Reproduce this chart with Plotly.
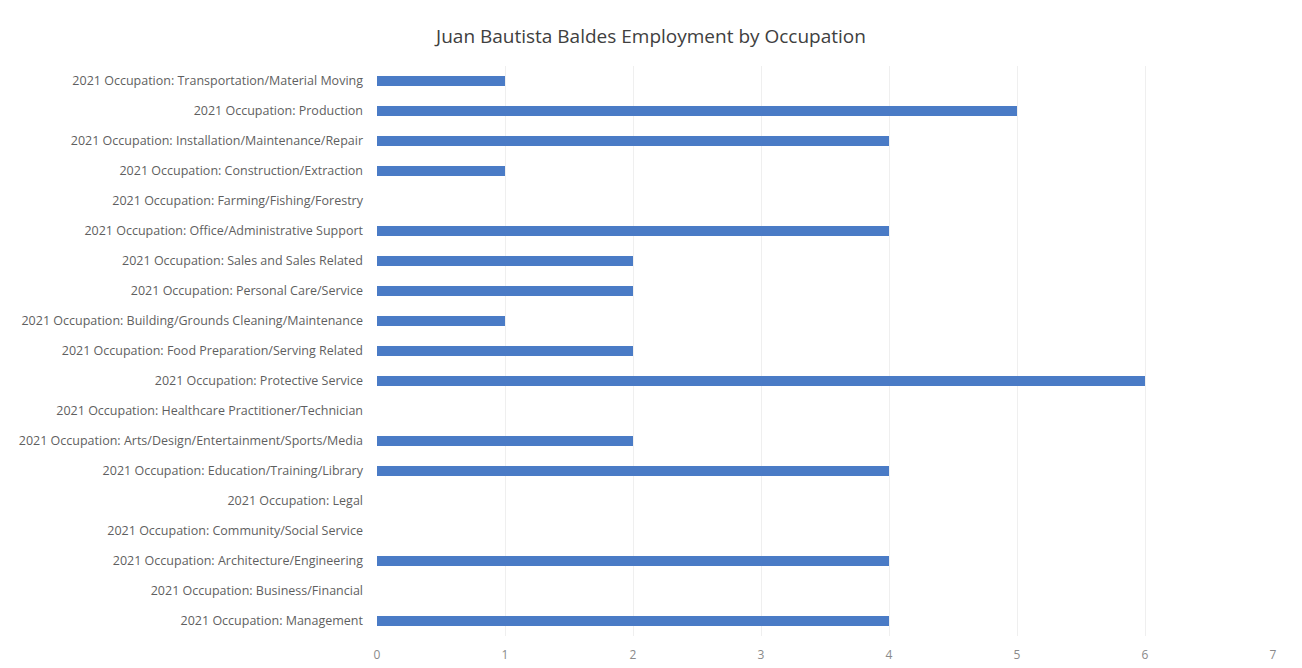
import plotly.graph_objects as go

# Occupation categories, listed bottom-to-top as the y axis draws them
categories = [
    "2021 Occupation: Management",
    "2021 Occupation: Business/Financial",
    "2021 Occupation: Architecture/Engineering",
    "2021 Occupation: Community/Social Service",
    "2021 Occupation: Legal",
    "2021 Occupation: Education/Training/Library",
    "2021 Occupation: Arts/Design/Entertainment/Sports/Media",
    "2021 Occupation: Healthcare Practitioner/Technician",
    "2021 Occupation: Protective Service",
    "2021 Occupation: Food Preparation/Serving Related",
    "2021 Occupation: Building/Grounds Cleaning/Maintenance",
    "2021 Occupation: Personal Care/Service",
    "2021 Occupation: Sales and Sales Related",
    "2021 Occupation: Office/Administrative Support",
    "2021 Occupation: Farming/Fishing/Forestry",
    "2021 Occupation: Construction/Extraction",
    "2021 Occupation: Installation/Maintenance/Repair",
    "2021 Occupation: Production",
    "2021 Occupation: Transportation/Material Moving",
]
employed = [4, 0, 4, 0, 0, 4, 2, 0, 6, 2, 1, 2, 2, 4, 0, 1, 4, 5, 1]

x_ticks = [0, 1, 2, 3, 4, 5, 6, 7]

FONT = "Open Sans, Lato, sans-serif"
TEXT_GRAY = "#5f5f5f"

fig = go.Figure(
    go.Bar(
        y=categories,
        x=employed,
        orientation="h",
        marker=dict(color="#4A7BC6", line=dict(width=0)),
        hoverinfo="x+y",
    )
)

fig.update_layout(
    width=1302,
    height=668,
    margin=dict(l=377, r=29, t=66, b=32, autoexpand=False),
    paper_bgcolor="white",
    plot_bgcolor="white",
    bargap=0.66,
    showlegend=False,
    title=dict(
        text="Juan Bautista Baldes Employment by Occupation",
        x=0.5,
        xanchor="center",
        y=1 - 36 / 668,
        yanchor="middle",
        font=dict(family=FONT, size=19, color="#404040"),
    ),
    font=dict(family=FONT, size=12.5, color=TEXT_GRAY),
)

fig.update_xaxes(
    range=[0, 7],
    tickvals=x_ticks,
    ticktext=[str(v) for v in x_ticks],
    showgrid=True,
    gridcolor="#efefef",
    gridwidth=1,
    zeroline=False,
    showline=False,
    ticks="",
    automargin=False,
    ticklabelstandoff=10,
    tickfont=dict(family=FONT, size=12, color="#8a8a8a"),
    fixedrange=True,
)

fig.update_yaxes(
    categoryorder="array",
    categoryarray=categories,
    showgrid=False,
    zeroline=False,
    showline=False,
    ticks="",
    automargin=False,
    ticklabelstandoff=13,
    tickfont=dict(family=FONT, size=12.5, color=TEXT_GRAY),
    fixedrange=True,
)

fig.write_html("out.html")
